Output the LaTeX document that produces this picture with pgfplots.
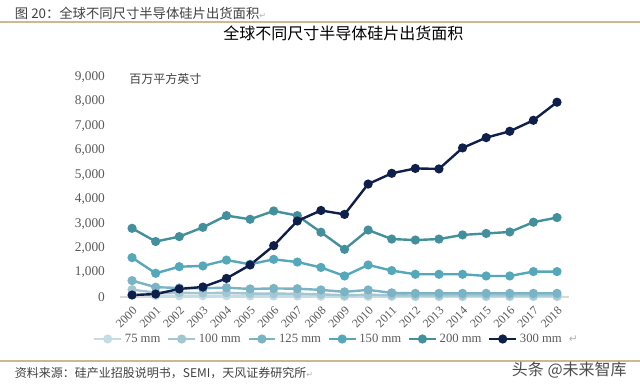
\documentclass[border=0pt]{standalone}
\usepackage{pgfplots}
\pgfplotsset{compat=1.18}
\usepackage{fontspec}
\setmainfont{Liberation Serif}
\newfontfamily\cjk{Noto Sans CJK SC}
\newfontfamily\djfont{DejaVu Sans}
\definecolor{c75}{HTML}{C6DCE4}
\definecolor{c100}{HTML}{A2C7D3}
\definecolor{c125}{HTML}{79B3C4}
\definecolor{c150}{HTML}{55A7BA}
\definecolor{c200}{HTML}{43909C}
\definecolor{c300}{HTML}{0F1F4B}
\definecolor{txt}{HTML}{595959}
\definecolor{tan}{HTML}{CBB994}
\begin{document}
\begin{tikzpicture}
\path[use as bounding box] (0,0) rectangle (480pt,291.75pt);
% header
\node[anchor=west, inner sep=0pt, text=black!75, font=\cjk\fontsize{10pt}{12pt}\selectfont] at (11pt,282pt) {图 20：全球不同尺寸半导体硅片出货面积{\djfont\color{black!30}\fontsize{6pt}{7pt}\selectfont ↵}};
\draw[tan, line width=0.8pt] (0pt,275.25pt) -- (480pt,275.25pt);
\node[inner sep=0pt, text=black, font=\cjk\fontsize{12pt}{14pt}\selectfont] at (257.5pt,266.5pt) {全球不同尺寸半导体硅片出货面积};
\node[inner sep=0pt, text=black!75, font=\cjk\fontsize{9pt}{11pt}\selectfont] at (124pt,232.5pt) {百万平方英寸};
% footer
\draw[tan, line width=0.8pt] (0pt,21pt) -- (480pt,21pt);
\node[anchor=west, inner sep=0pt, text=black!75, font=\cjk\fontsize{9pt}{11pt}\selectfont] at (11pt,12pt) {资料来源：硅产业招股说明书，SEMI，天风证券研究所{\djfont\color{black!30}\fontsize{6pt}{7pt}\selectfont ↵}};
\node[inner sep=0pt, text=black!70, font=\cjk\fontsize{12pt}{14pt}\selectfont] at (427pt,14pt) {头条 @未来智库};
\begin{axis}[
  at={(90.2pt,69pt)}, anchor=south west,
  scale only axis, width=336.4pt, height=165pt,
  xmin=-0.5, xmax=18.5, ymin=0, ymax=9000,
  axis lines*=left,
  y axis line style={draw=none},
  x axis line style={draw=black!15, line width=1pt, -},
  ytick={0,1000,...,9000},
  xtick={0,...,18},
  xticklabels={2000,2001,2002,2003,2004,2005,2006,2007,2008,2009,2010,2011,2012,2013,2014,2015,2016,2017,2018},
  major tick length=0pt,
  scaled y ticks=false,
  /pgf/number format/.cd, 1000 sep={,}, assume math mode=true,
  /pgfplots/.cd,
  yticklabel style={font=\fontsize{10pt}{12pt}\selectfont, text=txt, xshift=-8pt},
  xticklabel style={font=\fontsize{9pt}{10pt}\selectfont, text=txt, rotate=45, anchor=north east, inner sep=1pt},
  xticklabel shift=5pt,
  clip=false,
  legend columns=6,
  legend style={at={(0.465,-0.191)}, anchor=center, draw=none, fill=none,
    font=\fontsize{9.5pt}{11pt}\selectfont, text=txt, inner sep=0pt,
    /tikz/every odd column/.append style={column sep=0pt},
    /tikz/every even column/.append style={column sep=3pt}},
  legend image code/.code={\draw[#1, mark repeat=2, mark phase=2] plot coordinates {(0pt,0pt) (10pt,0pt) (20pt,0pt)};},
  every axis plot/.append style={line width=1.8pt, mark=*, mark size=2.5pt},
]
\addplot[c75, mark options={fill=c75, draw=c75}] coordinates {(0,110)(1,60)(2,50)(3,50)(4,50)(5,40)(6,40)(7,40)(8,30)(9,20)(10,20)(11,20)(12,10)(13,10)(14,10)(15,10)(16,10)(17,10)(18,10)};
\addlegendentry{75 mm}
\addplot[c100, mark options={fill=c100, draw=c100}] coordinates {(0,300)(1,180)(2,170)(3,160)(4,170)(5,140)(6,140)(7,130)(8,110)(9,70)(10,90)(11,70)(12,60)(13,60)(14,60)(15,60)(16,60)(17,60)(18,60)};
\addlegendentry{100 mm}
\addplot[c125, mark options={fill=c125, draw=c125}] coordinates {(0,670)(1,400)(2,370)(3,360)(4,380)(5,330)(6,350)(7,340)(8,290)(9,210)(10,290)(11,170)(12,150)(13,150)(14,150)(15,150)(16,150)(17,150)(18,150)};
\addlegendentry{125 mm}
\addplot[c150, mark options={fill=c150, draw=c150}] coordinates {(0,1610)(1,970)(2,1240)(3,1270)(4,1510)(5,1340)(6,1540)(7,1430)(8,1210)(9,860)(10,1310)(11,1080)(12,930)(13,930)(14,930)(15,860)(16,860)(17,1040)(18,1040)};
\addlegendentry{150 mm}
\addplot[c200, mark options={fill=c200, draw=c200}] coordinates {(0,2810)(1,2270)(2,2470)(3,2850)(4,3330)(5,3180)(6,3520)(7,3330)(8,2650)(9,1950)(10,2740)(11,2370)(12,2330)(13,2370)(14,2540)(15,2600)(16,2660)(17,3060)(18,3250)};
\addlegendentry{200 mm}
\addplot[c300, mark options={fill=c300, draw=c300}] coordinates {(0,80)(1,120)(2,330)(3,410)(4,760)(5,1310)(6,2100)(7,3110)(8,3540)(9,3380)(10,4620)(11,5060)(12,5260)(13,5240)(14,6100)(15,6520)(16,6780)(17,7230)(18,7970)};
\addlegendentry{300 mm}
\end{axis}
\node[inner sep=0pt, text=black!30, font=\djfont\fontsize{8pt}{9pt}\selectfont] at (430pt,37.5pt) {↵};
\end{tikzpicture}
\end{document}
